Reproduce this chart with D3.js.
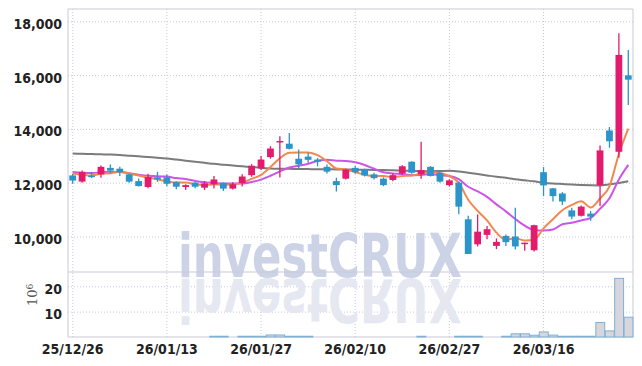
<!DOCTYPE html>
<html>
<head>
<meta charset="utf-8">
<script src="https://cdn.jsdelivr.net/npm/d3@7"></script>
<style>
  body { margin: 0; background: #fff; }
  svg { display: block; }
  .lbl { font-family: 'Liberation Sans Narrow', 'DejaVu Sans Condensed', 'Roboto Condensed', sans-serif; font-weight: 700; font-size: 14px; fill: #222; }
</style>
</head>
<body>
<div id="chart"></div>
<script>
const dates = ['25/12/26','25/12/29','25/12/30','26/01/02','26/01/05','26/01/06','26/01/07','26/01/08','26/01/09','26/01/12',
  '26/01/13','26/01/14','26/01/15','26/01/16','26/01/19','26/01/20','26/01/21','26/01/22','26/01/23','26/01/26',
  '26/01/27','26/01/28','26/01/29','26/01/30','26/02/02','26/02/03','26/02/04','26/02/05','26/02/06','26/02/09',
  '26/02/10','26/02/11','26/02/12','26/02/13','26/02/19','26/02/20','26/02/23','26/02/24','26/02/25','26/02/26',
  '26/02/27','26/03/03','26/03/04','26/03/05','26/03/06','26/03/09','26/03/10','26/03/11','26/03/12','26/03/13',
  '26/03/16','26/03/17','26/03/18','26/03/19','26/03/20','26/03/23','26/03/24','26/03/25','26/03/26','26/03/27'];

const opens = [12270,12040,12260,12310,12550,12520,12310,12060,11840,12200,
  12200,12020,11840,12000,11815,11940,12000,11780,11985,12280,
  12530,12950,13530,13450,12890,12970,12860,12590,12060,12150,
  12550,12470,12310,12150,12100,12340,12780,12310,12590,12370,
  11910,12000,10640,9710,10060,9650,10020,10000,9750,9490,
  12390,11790,11600,10970,10770,10850,11910,13940,13150,15990];
const highs = [12330,12450,12400,12640,12680,12590,12330,12160,12330,12400,
  12300,12050,11940,12030,12060,12245,12010,12020,12310,12690,
  12990,13360,13730,13850,13230,13110,12920,12680,12185,12520,
  12620,12520,12370,12200,12350,12650,12800,13520,12620,12450,
  12130,12040,10770,10820,10390,9930,10070,11070,9780,10440,
  12580,11800,11650,11070,11150,10950,13380,14070,17560,16930];
const lows = [11960,12000,12170,12180,12340,12250,12000,11860,11790,12030,
  11870,11760,11730,11790,11730,11780,11690,11750,11860,12220,
  12470,12890,12190,13230,12530,12740,12610,12340,11670,12120,
  12330,12230,12120,11870,12050,12300,12330,12150,12230,12000,
  11860,10830,9350,9630,9900,9530,9650,9520,9470,9440,
  11500,11300,11170,10640,10740,10580,11130,13300,12930,14890];
const closes = [12080,12400,12220,12590,12450,12390,12040,11875,12210,12120,
  11960,11850,11910,11850,11975,12120,11780,11940,12230,12630,
  12860,13270,13550,13260,12680,12850,12780,12410,11910,12490,
  12390,12270,12170,11910,12280,12610,12370,12470,12250,12040,
  12085,11110,9350,10180,10270,9800,9790,9630,9770,10420,
  11900,11500,11300,10740,11110,10740,13200,13540,16750,15830];

// volume in millions
const volumes = [0,0,0,0,0,0,0,0,0,0,
  0,0,0,0,0,0.3,0.3,0,0.3,0.3,
  0.3,0.8,0.8,0.3,0.3,0.3,0,0,0,0,
  0,0,0,0,0,0,0,0.3,0,0,
  0,0.3,0.3,0.3,0,0,0.3,1.25,1.25,0.7,
  2.0,0.75,0.3,0.3,0.3,0.3,5.7,2.4,23.1,7.8];

const ma5 = [12340,12300,12270,12330,12348,12410,12338,12269,12193,12127,
  12041,12003,12010,11938,11909,11941,11927,11933,12009,12140,
  12288,12586,12908,13114,13124,13122,13024,12796,12526,12488,
  12396,12294,12246,12246,12204,12248,12268,12328,12396,12348,
  12243,11991,11367,10953,10599,10142,9878,9934,9852,9882,
  10302,10644,10978,11172,11310,11078,11418,11866,13068,14012];
const ma10 = [12400,12370,12360,12380,12410,12400,12350,12300,12260,12238,
  12226,12171,12140,12066,12018,11991,11965,11972,11974,12025,
  12115,12257,12421,12562,12632,12705,12805,12852,12820,12806,
  12759,12659,12521,12386,12346,12322,12281,12287,12321,12276,
  12246,12130,11848,11675,11474,11193,10935,10651,10403,10241,
  10222,10261,10456,10512,10596,10690,11031,11422,12120,12661];
const ma60 = [13085,13075,13065,13055,13045,13030,13005,12980,12955,12930,
  12900,12860,12820,12780,12740,12700,12670,12640,12610,12580,
  12550,12530,12520,12515,12510,12505,12500,12500,12495,12490,
  12485,12480,12475,12470,12460,12450,12440,12430,12430,12435,
  12440,12420,12370,12320,12270,12220,12180,12130,12090,12050,
  12000,11970,11950,11930,11915,11905,11900,11940,11990,12050];

const priceTicks = [10000, 12000, 14000, 16000, 18000];
const volumeTicks = [10, 20];
const dateTicks = ['25/12/26', '26/01/13', '26/01/27', '26/02/10', '26/02/27', '26/03/16'];

const WIDTH = 642, HEIGHT = 366;
const LEFT = 68, RIGHT = 633;
const PRICE_TOP = 9, PRICE_BOTTOM = 272;
const VOL_TOP = 272, VOL_BOTTOM = 337;
const UP = '#e21b6c', DOWN = '#2b94c8';
const GRID = '#c6c9db';

const svg = d3.select('#chart').append('svg')
  .attr('width', WIDTH)
  .attr('height', HEIGHT);

const x = d3.scaleBand().domain(dates).range([LEFT, RIGHT]).padding(0);
const bw = x.bandwidth();
const cx = d => x(d) + bw / 2;
const y = d3.scaleLinear().domain([8680, 18457]).range([PRICE_BOTTOM, PRICE_TOP]);
const yv = d3.scaleLinear().domain([0, 25.6]).range([VOL_BOTTOM, VOL_TOP]);

// horizontal grid + price labels
const yAxis = svg.append('g')
  .attr('transform', `translate(${LEFT},0)`)
  .call(d3.axisLeft(y).tickValues(priceTicks).tickSize(-(RIGHT - LEFT)).tickPadding(6).tickFormat(d3.format(',')));
const vAxis = svg.append('g')
  .attr('transform', `translate(${LEFT},0)`)
  .call(d3.axisLeft(yv).tickValues(volumeTicks).tickSize(-(RIGHT - LEFT)).tickPadding(6).tickFormat(d3.format('d')));
const xAxis = svg.append('g')
  .attr('transform', `translate(0,${VOL_BOTTOM})`)
  .call(d3.axisBottom(x).tickValues(dateTicks).tickSize(-(VOL_BOTTOM - PRICE_TOP)).tickPadding(7));

[yAxis, vAxis, xAxis].forEach(g => {
  g.select('.domain').remove();
  g.selectAll('.tick line')
    .attr('stroke', GRID)
    .attr('stroke-dasharray', '1,2');
  g.selectAll('.tick text').attr('class', 'lbl');
});
yAxis.selectAll('.tick text').attr('dy', '0.5em');
vAxis.selectAll('.tick text').attr('dy', '0.5em');

// watermark with reflection
const mark = svg.append('g');
mark.append('text')
  .attr('x', 178).attr('y', 277)
  .attr('textLength', 284).attr('lengthAdjust', 'spacingAndGlyphs')
  .style('font-family', "'Liberation Sans Narrow', 'DejaVu Sans Condensed', sans-serif")
  .style('font-weight', 700).style('font-size', '60px')
  .style('fill', '#cdd3e6')
  .text('investCRUX');
mark.append('text')
  .attr('x', 178).attr('y', -279)
  .attr('transform', 'scale(1,-1)')
  .attr('textLength', 284).attr('lengthAdjust', 'spacingAndGlyphs')
  .style('font-family', "'Liberation Sans Narrow', 'DejaVu Sans Condensed', sans-serif")
  .style('font-weight', 700).style('font-size', '60px')
  .style('fill', '#e6e8f1')
  .text('investCRUX');

// frame
const frame = svg.append('g').attr('stroke', '#c9cad6').attr('fill', 'none');
frame.append('line').attr('x1', LEFT).attr('x2', LEFT).attr('y1', PRICE_TOP).attr('y2', VOL_BOTTOM);
frame.append('line').attr('x1', RIGHT).attr('x2', RIGHT).attr('y1', PRICE_TOP).attr('y2', VOL_BOTTOM);
frame.append('line').attr('x1', LEFT).attr('x2', RIGHT).attr('y1', PRICE_TOP).attr('y2', PRICE_TOP);
frame.append('line').attr('x1', LEFT).attr('x2', RIGHT).attr('y1', PRICE_BOTTOM).attr('y2', PRICE_BOTTOM);
frame.append('line').attr('x1', LEFT).attr('x2', RIGHT).attr('y1', VOL_BOTTOM).attr('y2', VOL_BOTTOM);

// volume bars
svg.append('g').selectAll('rect')
  .data(dates.map((d, i) => ({ d, v: volumes[i] })).filter(o => o.v > 0))
  .join('rect')
  .attr('x', o => x(o.d) + 0.5)
  .attr('y', o => yv(o.v))
  .attr('width', bw - 0.5)
  .attr('height', o => VOL_BOTTOM - yv(o.v))
  .attr('fill', '#d6d6dc')
  .attr('stroke', '#7fb0d6')
  .attr('stroke-width', 1);

// 10^6 label
const unit = svg.append('text')
  .attr('transform', 'translate(37,306) rotate(-90)')
  .style('font-family', "'DejaVu Serif', serif")
  .style('font-size', '13px')
  .style('fill', '#555');
unit.append('tspan').text('10');
unit.append('tspan').attr('dy', '-0.5em').style('font-size', '9px').text('6');

// moving averages
const line = arr => d3.line()
  .x((v, i) => cx(dates[i]))
  .y(v => y(v))
  .curve(d3.curveMonotoneX)(arr);

svg.append('path').attr('d', line(ma60)).attr('fill', 'none').attr('stroke', '#7b7b7b').attr('stroke-width', 2);
svg.append('path').attr('d', line(ma10)).attr('fill', 'none').attr('stroke', '#cc55e6').attr('stroke-width', 2);
svg.append('path').attr('d', line(ma5)).attr('fill', 'none').attr('stroke', '#f08850').attr('stroke-width', 2);

// candles
const candles = svg.append('g').selectAll('g')
  .data(dates.map((d, i) => ({ d, o: opens[i], h: highs[i], l: lows[i], c: closes[i] })))
  .join('g');

candles.append('line')
  .attr('x1', k => cx(k.d)).attr('x2', k => cx(k.d))
  .attr('y1', k => y(k.h)).attr('y2', k => y(k.l))
  .attr('stroke', k => k.c >= k.o ? UP : DOWN)
  .attr('stroke-width', 1.3);

candles.append('rect')
  .attr('x', k => cx(k.d) - bw * 0.36)
  .attr('width', bw * 0.72)
  .attr('y', k => y(Math.max(k.o, k.c)))
  .attr('height', k => Math.max(1.5, Math.abs(y(k.o) - y(k.c))))
  .attr('fill', k => k.c >= k.o ? UP : DOWN);
</script>
</body>
</html>
